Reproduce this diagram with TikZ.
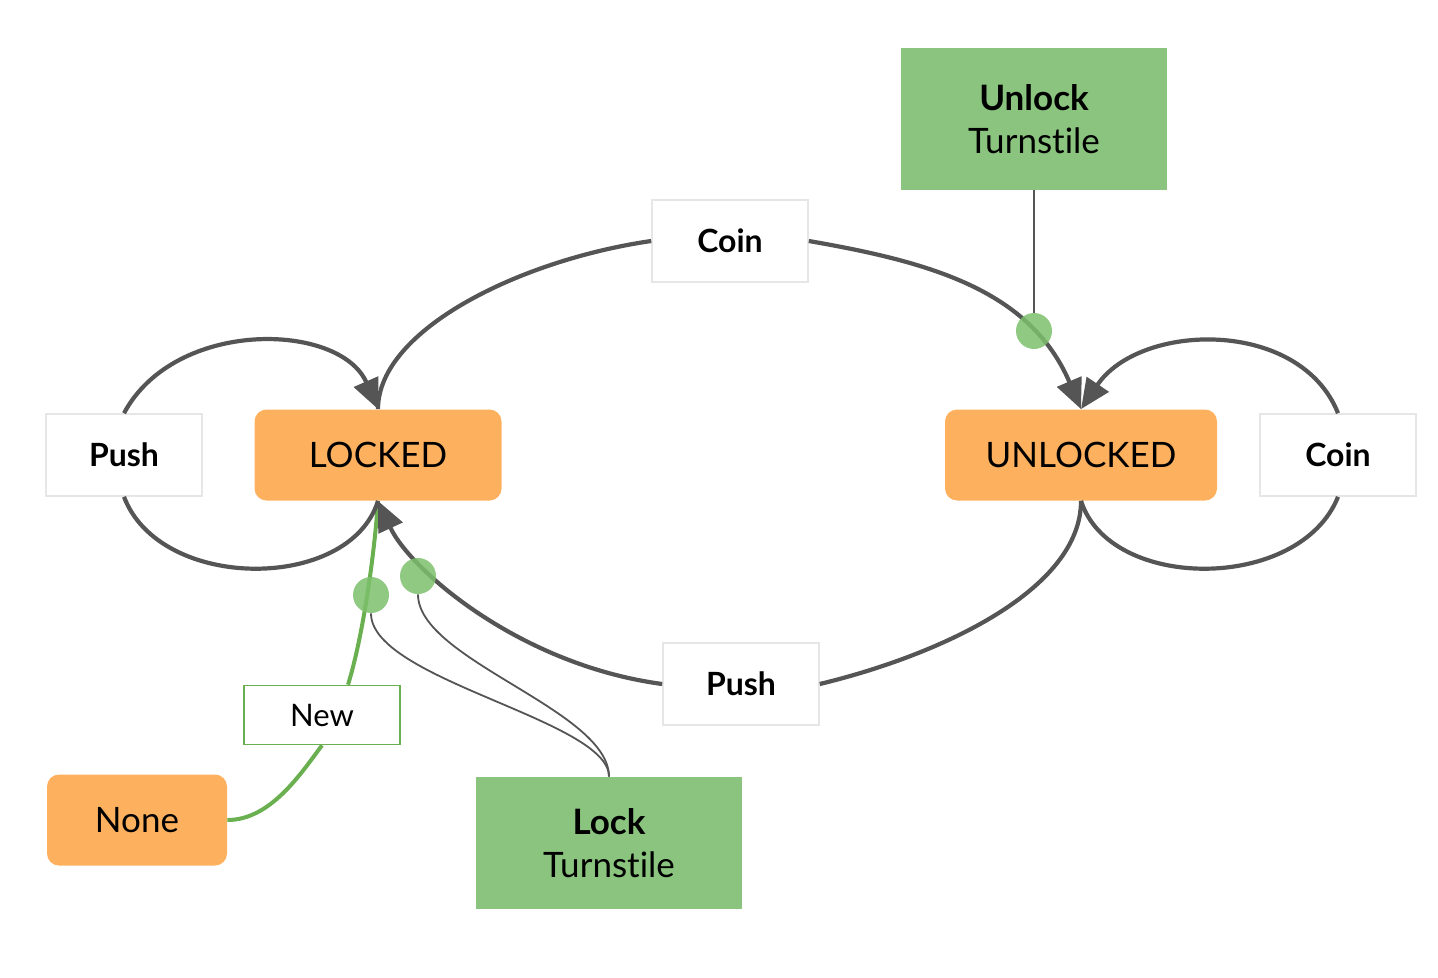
\documentclass[tikz,border=0pt]{standalone}
\usepackage{fontspec}
\setmainfont{Lato}[Ligatures={NoCommon,NoContextual}]
\usetikzlibrary{arrows.meta,calc}
\definecolor{stateorange}{HTML}{FDB15E}
\definecolor{actgreen}{HTML}{8AC47E}
\definecolor{linegray}{HTML}{555555}
\definecolor{newgreen}{HTML}{6AAF50}
\definecolor{dotgreen}{HTML}{7CC06C}
\definecolor{lblborder}{HTML}{E6E6E6}

\begin{document}
\begin{tikzpicture}[x=0.5pt,y=-0.5pt,
    state/.style={fill=stateorange,rounded corners=6pt,minimum height=45.5pt,inner sep=0pt,font=\fontsize{17.5}{21}\selectfont},
    evlabel/.style={draw=lblborder,fill=white,line width=0.8pt,minimum width=78pt,minimum height=41pt,font=\bfseries\fontsize{16}{19}\selectfont},
    action/.style={fill=actgreen,minimum width=133pt,align=center,font=\fontsize{17.5}{21.5}\selectfont},
    trans/.style={draw=linegray,line width=2.1pt},
    bigtip/.style={-{Triangle[length=15pt,width=13pt]}},
    hook/.style={draw=linegray,line width=0.9pt},
    hookdot/.style={circle,fill=dotgreen,fill opacity=0.85,minimum size=18pt,inner sep=0pt}]
  \useasboundingbox (0,0) rectangle (1438,978);

  \node[state,minimum width=123.5pt] (locked) at (378,455) {LOCKED};
  \node[state,minimum width=136pt] (unlocked) at (1081,455) {UNLOCKED};
  \node[state,minimum width=90pt] (none) at (137,820) {None};
  \node[evlabel] (pushL) at (124,455) {Push};
  \node[evlabel] (coinR) at (1338,455) {Coin};
  \node[evlabel] (coinT) at (730,241) {Coin};
  \node[evlabel] (pushB) at (741,684) {Push};
  \node[evlabel,draw=newgreen,minimum height=29.5pt,font=\fontsize{15.5}{18}\selectfont] (new) at (322,715) {New};
  \node[action,minimum height=71pt] (unlockT) at (1034,119) {\textbf{Unlock}\\Turnst\kern0pt ile};
  \node[action,minimum height=66pt] (lockT) at (609,843) {\textbf{Lock}\\Turnst\kern0pt ile};

  % None -> LOCKED
  \draw[newgreen,line width=2pt] (none.east) .. controls (270,820) and (300,775) .. (new.south);
  \draw[newgreen,line width=2pt] ($(new.north)+(26,0)$) .. controls (362,640) and (374,560) .. (locked.south);

  % LOCKED <-> UNLOCKED
  \draw[trans] (locked.north) .. controls (378,330) and (520,260) .. (coinT.west);
  \draw[trans,bigtip] (coinT.east) .. controls (930,262) and (1030,290) .. (unlocked.north);
  \draw[trans] (unlocked.south) .. controls (1081,590) and (940,655) .. (pushB.east);
  \draw[trans,bigtip] (pushB.west) .. controls (520,665) and (410,570) .. (locked.south);

  % self loops
  \draw[trans] (locked.south) .. controls (350,592) and (160,592) .. (pushL.south);
  \draw[trans,bigtip] (pushL.north) .. controls (175,318) and (340,322) .. (locked.north);
  \draw[trans] (unlocked.south) .. controls (1110,592) and (1300,592) .. (coinR.south);
  \draw[trans,bigtip] (coinR.north) .. controls (1300,318) and (1140,322) .. (unlocked.north);

  % actions
  \node[hookdot] (dU) at (1034,331) {};
  \node[hookdot] (dN) at (371,595) {};
  \node[hookdot] (dP) at (418,576) {};
  \draw[hook] (unlockT.south) -- (dU);
  \draw[hook] (lockT.north) .. controls (609,720) and (371,680) .. (dN.south);
  \draw[hook] (lockT.north) .. controls (609,710) and (418,660) .. (dP.south);
\end{tikzpicture}
\end{document}
